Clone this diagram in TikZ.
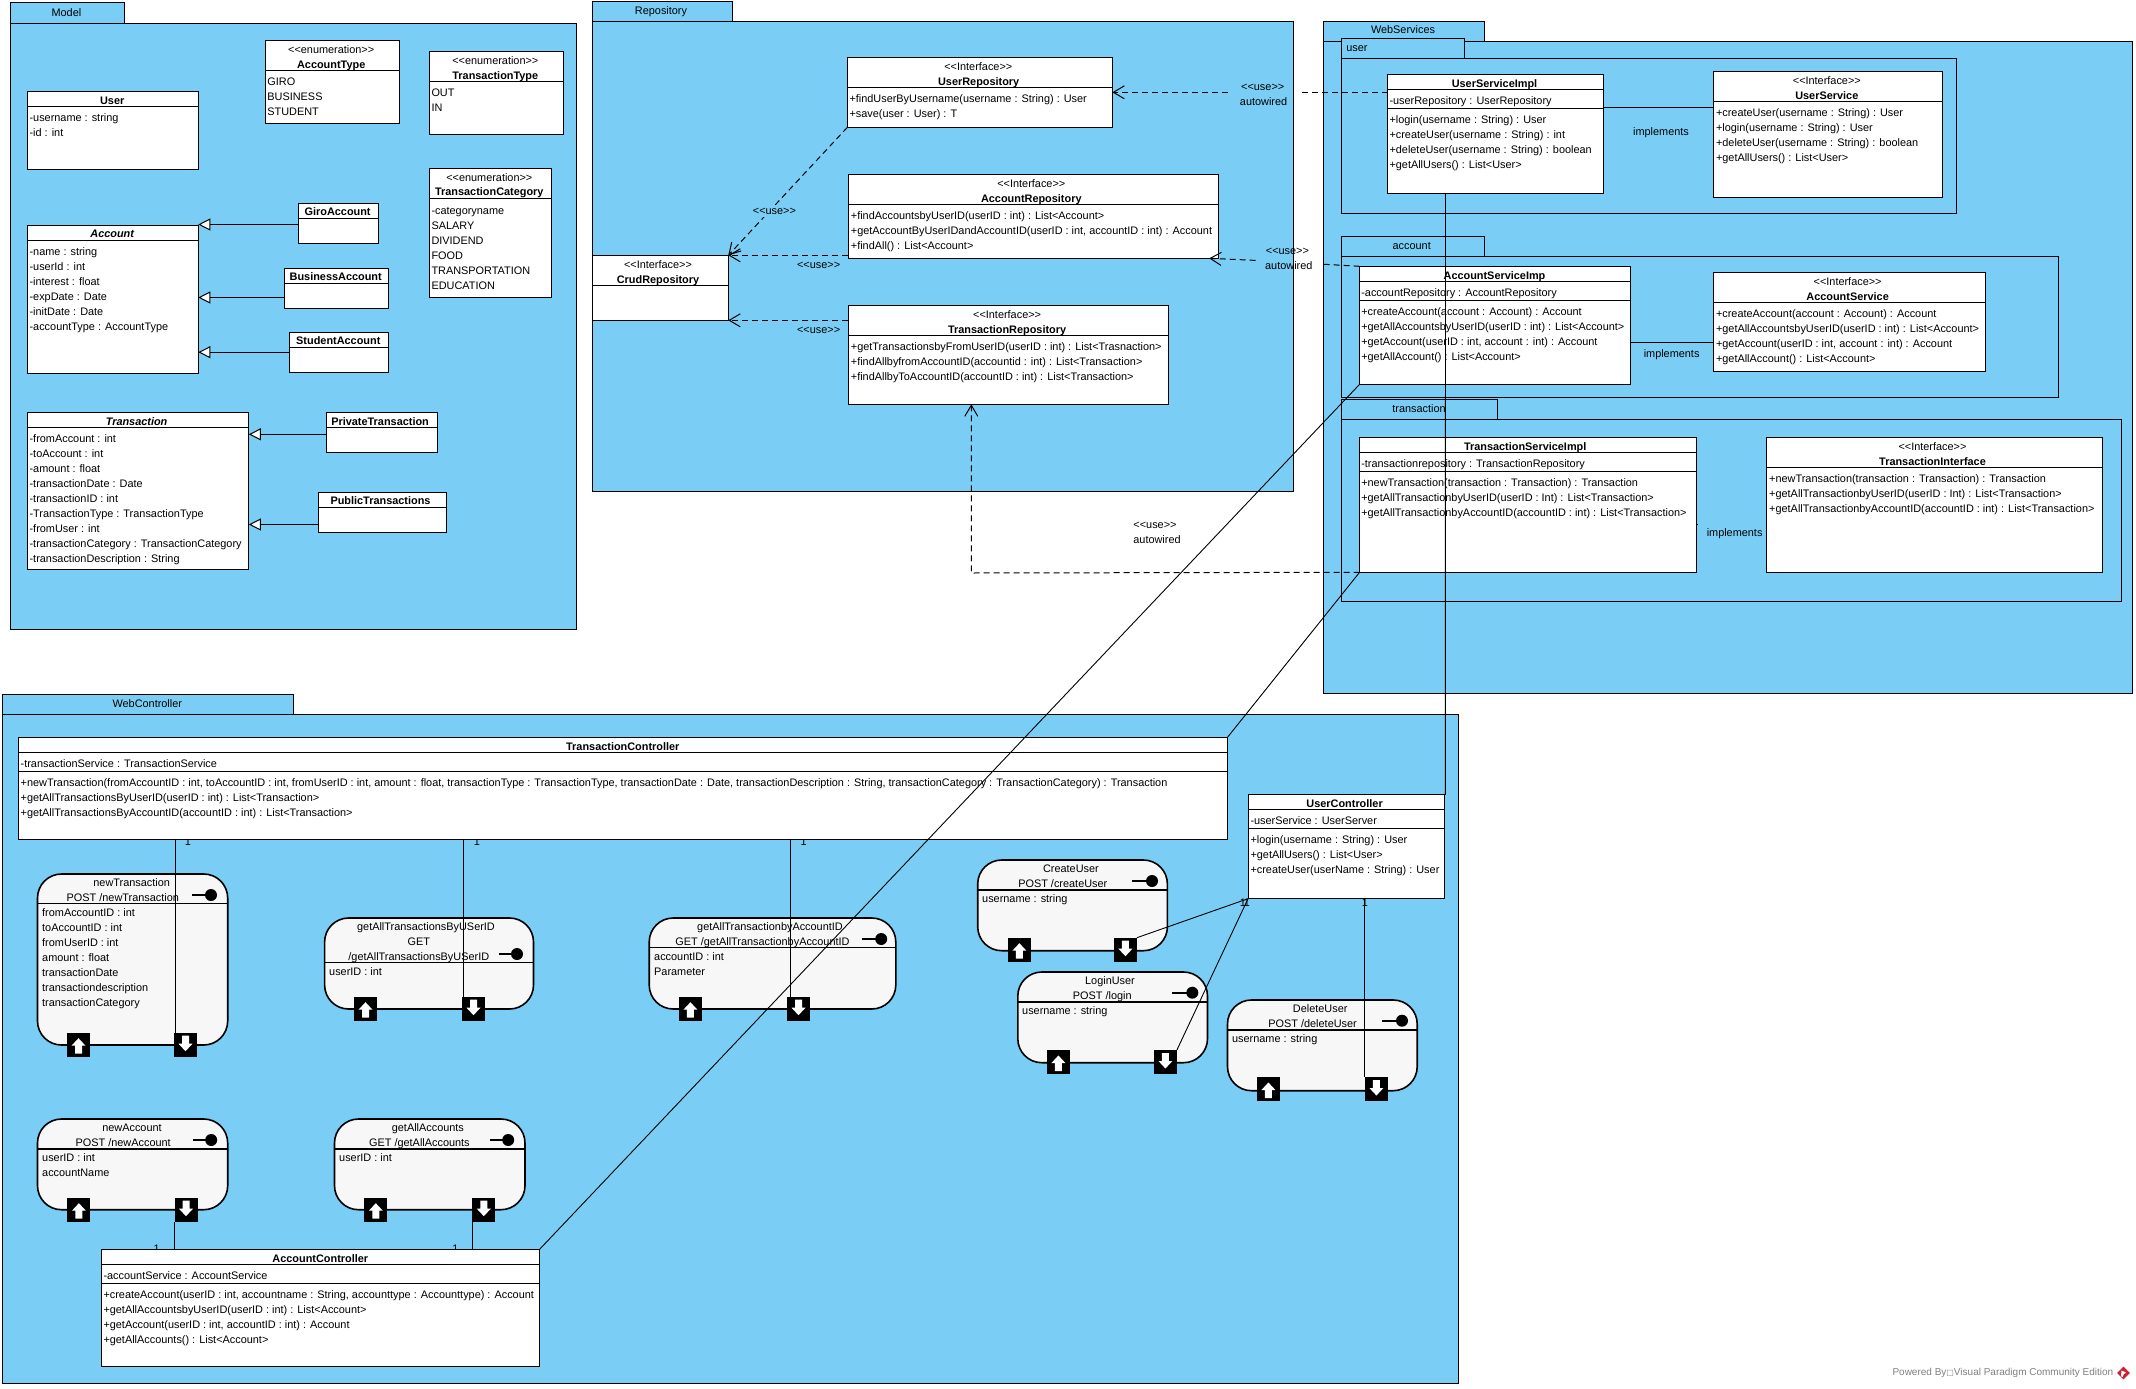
\documentclass[tikz,border=0pt]{standalone}
\usepackage{fontspec}
\setmainfont{Liberation Sans}
\newfontfamily\djvfont{DejaVu Sans}
\usetikzlibrary{arrows.meta,calc}
\definecolor{pkgblue}{RGB}{122,206,245}
\definecolor{stfill}{RGB}{247,247,247}
\definecolor{vpred}{RGB}{208,32,48}
\newcommand{\umlfont}{\fontsize{10.9}{15}\selectfont}
\newcounter{tn}
\tikzset{
  pkgbox/.style={draw=black,fill=pkgblue,line width=1pt,inner sep=0pt,outer sep=0pt,anchor=north west},
  clsbox/.style={draw=black,fill=white,line width=1pt,inner sep=0pt,outer sep=0pt,anchor=north west},
  stbox/.style={draw=black,fill=stfill,line width=1.6pt,inner sep=0pt,outer sep=0pt,anchor=north west,rounded corners=24pt},
  sepline/.style={line width=1pt},
  stsep/.style={line width=1.6pt},
  ctxt/.style={inner sep=0pt,font=\umlfont,text height=7.5pt,text depth=2.5pt,anchor=center,yshift=-1.5pt},
  rowtxt/.style={inner sep=0pt,font=\umlfont,align=left,anchor=north west,yshift=-1.5pt},
  portbox/.style={fill=black,inner sep=0pt,outer sep=0pt,minimum width=23pt,minimum height=24pt,anchor=north},
  lolli/.style={circle,fill=black,inner sep=0pt,outer sep=0pt,minimum size=12pt},
  gen/.style={line width=1pt,-{Triangle[open,fill=white,length=12pt,width=12pt]}},
  dep/.style={line width=1pt,dash pattern=on 6pt off 4pt,-{Straight Barb[length=11pt,width=13pt]}},
  depplain/.style={line width=1pt,dash pattern=on 6pt off 4pt},
  assoc/.style={line width=.9pt},
}
% generic box: style, name, x0,y0,x1,y1
\newcommand{\ubox}[6]{\pgfmathsetlengthmacro\uw{(#5)-(#3)}\pgfmathsetlengthmacro\uh{(#6)-(#4)}%
  \node[#1,minimum width=\uw,minimum height=\uh] (#2) at (#3,#4) {};}
\newcommand{\csep}[2]{\draw[sepline] (#1.west |- 0,#2) -- (#1.east |- 0,#2);}
\newcommand{\ssep}[2]{\draw[stsep] (#1.west |- 0,#2) -- (#1.east |- 0,#2);}
% centered text
\newcommand{\ct}[3]{\stepcounter{tn}\node[ctxt] (t\thetn) at (#1,#2) {#3};}
\newcommand{\sg}[1]{<{}<#1>{}>}
% rows: x, ycentre of first row, content
\newcommand{\rws}[3]{\stepcounter{tn}\node[rowtxt] (t\thetn) at (#1,{#2-7.6}) {\strut #3};}
% ports: name, cx, ytop
\newcommand{\portup}[3]{\node[portbox] (#1) at (#2,#3) {};
  \fill[white] ($(#1.north)+(0,5.5)$) -- ++(7,7.5) -- ++(-3.5,0) -- ++(0,8) -- ++(-7,0) -- ++(0,-8) -- ++(-3.5,0) -- cycle;}
\newcommand{\portdn}[3]{\node[portbox] (#1) at (#2,#3) {};
  \fill[white] ($(#1.south)+(0,-5.5)$) -- ++(7,-7.5) -- ++(-3.5,0) -- ++(0,-8) -- ++(-7,0) -- ++(0,8) -- ++(-3.5,0) -- cycle;}
% lollipop: name, x0, x circle, y
\newcommand{\lol}[4]{\node[lolli] (#1) at (#3,#4) {}; \draw[stsep] (#2,#4) -- (#1.center);}
\begin{document}
\begin{tikzpicture}[x=1pt,y=-1pt]
\fill[white] (0,0) rectangle (2136,1389);
\useasboundingbox (0,0) rectangle (2136,1389);

% ===== Model =====
\ubox{pkgbox}{modeltab}{10.5}{3}{124}{23.3}
\ubox{pkgbox}{model}{10.5}{23.3}{576}{629.4}
\ct{66.4}{12.2}{Model}
\ubox{clsbox}{user}{27.5}{91.4}{198.3}{169.4} \csep{user}{106.5}
\ct{112.2}{100}{\bfseries User}
\rws{29.4}{117}{-username : string\\-id : int}
\ubox{clsbox}{acctype}{265.3}{40.4}{399.3}{123.3} \csep{acctype}{70.2}
\ct{331.2}{49}{\sg{enumeration}} \ct{331.2}{64}{\bfseries AccountType}
\rws{267.2}{81}{GIRO\\BUSINESS\\STUDENT}
\ubox{clsbox}{trtype}{429.4}{51.4}{563.4}{134.3} \csep{trtype}{81.2}
\ct{495.3}{60.4}{\sg{enumeration}} \ct{495.3}{75.1}{\bfseries TransactionType}
\rws{431.3}{92.2}{OUT\\IN}
\ubox{clsbox}{trcat}{429.4}{168.6}{551.4}{297.1} \csep{trcat}{198.8}
\ct{489.3}{177.1}{\sg{enumeration}} \ct{489.3}{191.8}{\bfseries TransactionCategory}
\rws{431.3}{209.4}{-categoryname\\SALARY\\DIVIDEND\\FOOD\\TRANSPORTATION\\EDUCATION}
\ubox{clsbox}{giro}{298.5}{203.3}{378.6}{243.7} \csep{giro}{218.4}
\ct{337.6}{211.8}{\bfseries GiroAccount}
\ubox{clsbox}{business}{284.5}{268.6}{388.4}{308.6} \csep{business}{283.7}
\ct{335.7}{276.7}{\bfseries BusinessAccount}
\ubox{clsbox}{student}{289.4}{332.2}{388.4}{372.2} \csep{student}{347.3}
\ct{338.3}{340.8}{\bfseries StudentAccount}
\ubox{clsbox}{account}{27.5}{225.3}{198.3}{373.5} \csep{account}{240.4}
\ct{112.2}{233.9}{\bfseries\itshape Account}
\rws{29.4}{251}{-name : string\\-userId : int\\-interest : float\\-expDate : Date\\-initDate : Date\\-accountType : AccountType}
\ubox{clsbox}{transaction}{27.5}{412.2}{248.8}{569.4} \csep{transaction}{427.3}
\ct{136.6}{421.2}{\bfseries\itshape Transaction}
\rws{29.4}{438}{-fromAccount : int\\-toAccount : int\\-amount : float\\-transactionDate : Date\\-transactionID : int\\-TransactionType : TransactionType\\-fromUser : int\\-transactionCategory : TransactionCategory\\-transactionDescription : String}
\ubox{clsbox}{privatet}{326.3}{412.2}{437.3}{452.2} \csep{privatet}{427.3}
\ct{380.1}{421.2}{\bfseries PrivateTransaction}
\ubox{clsbox}{publict}{318.4}{492.2}{446.4}{532.2} \csep{publict}{507.3}
\ct{380.5}{500.8}{\bfseries PublicTransactions}
\draw[gen] (giro.west |- 0,224.5) -- (account.east |- 0,224.5);
\draw[gen] (business.west |- 0,297.5) -- (account.east |- 0,297.5);
\draw[gen] (student.west |- 0,352.2) -- (account.east |- 0,352.2);
\draw[gen] (privatet.west |- 0,434.3) -- (transaction.east |- 0,434.3);
\draw[gen] (publict.west |- 0,524.5) -- (transaction.east |- 0,524.5);

% ===== Repository =====
\ubox{pkgbox}{repotab}{592.3}{1.3}{732.5}{21.3}
\ubox{pkgbox}{repo}{592.3}{21.3}{1293.4}{491.3}
\ct{661}{10.3}{Repository}
\ubox{clsbox}{userrepo}{847.4}{57.3}{1112.4}{127.3} \csep{userrepo}{87.3}
\ct{978.3}{66.3}{\sg{Interface}} \ct{978.7}{81.3}{\bfseries UserRepository}
\rws{849.3}{98.3}{+findUserByUsername(username : String) : User\\+save(user : User) : T}
\ubox{clsbox}{accrepo}{848.4}{174.3}{1218.5}{258.3} \csep{accrepo}{204.3}
\ct{1031.3}{183.3}{\sg{Interface}} \ct{1031.3}{198.3}{\bfseries AccountRepository}
\rws{850.7}{215.3}{+findAccountsbyUserID(userID : int) : List<Account>\\+getAccountByUserIDandAccountID(userID : int, accountID : int) : Account\\+findAll() : List<Account>}
\ubox{clsbox}{trrepo}{848.4}{305.3}{1168.7}{404.3} \csep{trrepo}{335.3}
\ct{1007.1}{314.3}{\sg{Interface}} \ct{1007.1}{329.3}{\bfseries TransactionRepository}
\rws{850.7}{346.3}{+getTransactionsbyFromUserID(userID : int) : List<Trasnaction>\\+findAllbyfromAccountID(accountid : int) : List<Transaction>\\+findAllbyToAccountID(accountID : int) : List<Transaction>}
\ubox{clsbox}{crud}{592.3}{255.3}{728.3}{320.3} \csep{crud}{285.3}
\ct{658}{264.3}{\sg{Interface}} \ct{658}{279.3}{\bfseries CrudRepository}

% ===== WebServices =====
\ubox{pkgbox}{wstab}{1323.6}{21.3}{1484.6}{41.3}
\ubox{pkgbox}{ws}{1323.6}{41.3}{2132}{693.3}
\ct{1403}{30}{WebServices}
% user
\ubox{pkgbox}{utab}{1341.4}{38.3}{1464.8}{58.3}
\ubox{pkgbox}{upkg}{1341.4}{58.3}{1956}{213.3}
\ct{1357}{47.3}{user}
\ubox{clsbox}{usimpl}{1387.7}{74.3}{1603.9}{193.3} \csep{usimpl}{89.3} \csep{usimpl}{108.3}
\ct{1494.5}{83.3}{\bfseries UserServiceImpl}
\rws{1389.3}{100.3}{-userRepository : UserRepository}
\rws{1389.3}{119.3}{+login(username : String) : User\\+createUser(username : String) : int\\+deleteUser(username : String) : boolean\\+getAllUsers() : List<User>}
\ubox{clsbox}{uservice}{1713.8}{71.3}{1942.9}{197.3} \csep{uservice}{101.3}
\ct{1826.8}{80.3}{\sg{Interface}} \ct{1826.8}{95.3}{\bfseries UserService}
\rws{1715.8}{112.3}{+createUser(username : String) : User\\+login(username : String) : User\\+deleteUser(username : String) : boolean\\+getAllUsers() : List<User>}
\ct{1661}{131.3}{implements}
% account
\ubox{pkgbox}{atab}{1341.4}{236.3}{1484.6}{256.3}
\ubox{pkgbox}{apkg}{1341.4}{256.3}{2058}{397.3}
\ct{1411.7}{245.3}{account}
\ubox{clsbox}{asimpl}{1359.6}{266.3}{1630.9}{384.3} \csep{asimpl}{281.3} \csep{asimpl}{300.3}
\ct{1494.5}{275.3}{\bfseries AccountServiceImp}
\rws{1361.1}{292.3}{-accountRepository : AccountRepository}
\rws{1361.1}{311.3}{+createAccount(account : Account) : Account\\+getAllAccountsbyUserID(userID : int) : List<Account>\\+getAccount(userID : int, account : int) : Account\\+getAllAccount() : List<Account>}
\ubox{clsbox}{aservice}{1713.8}{272.3}{1985.1}{371.3} \csep{aservice}{302.3}
\ct{1847.6}{281.3}{\sg{Interface}} \ct{1847.6}{296.3}{\bfseries AccountService}
\rws{1715.8}{313.3}{+createAccount(account : Account) : Account\\+getAllAccountsbyUserID(userID : int) : List<Account>\\+getAccount(userID : int, account : int) : Account\\+getAllAccount() : List<Account>}
\ct{1671.6}{353.3}{implements}
% transaction
\ubox{pkgbox}{ttab}{1341.4}{399.3}{1497.6}{419.3}
\ubox{pkgbox}{tpkg}{1341.4}{419.3}{2121}{601.3}
\ct{1419}{408.3}{transaction}
\ubox{clsbox}{tsimpl}{1359.6}{437.3}{1696}{572.3} \csep{tsimpl}{452.3} \csep{tsimpl}{471.3}
\ct{1525.2}{446}{\bfseries TransactionServiceImpl}
\rws{1361.1}{463.3}{-transactionrepository : TransactionRepository}
\rws{1361.1}{482.3}{+newTransaction(transaction : Transaction) : Transaction\\+getAllTransactionbyUserID(userID : Int) : List<Transaction>\\+getAllTransactionbyAccountID(accountID : int) : List<Transaction>}
\ubox{clsbox}{tiface}{1766.9}{437.3}{2102.3}{572.3} \csep{tiface}{467.3}
\ct{1932.5}{446.3}{\sg{Interface}} \ct{1932.5}{461.3}{\bfseries TransactionInterface}
\rws{1769}{478.3}{+newTransaction(transaction : Transaction) : Transaction\\+getAllTransactionbyUserID(userID : Int) : List<Transaction>\\+getAllTransactionbyAccountID(accountID : int) : List<Transaction>}
\ct{1734.6}{532.3}{implements}

% ===== WebController =====
\ubox{pkgbox}{wctab}{2.2}{694.3}{293.8}{714.3}
\ubox{pkgbox}{wc}{2.2}{714.3}{1458.4}{1383.3}
\ct{147.3}{703}{WebController}
% multiplicities (partly hidden by the class boxes)
\ct{188}{841.7}{1} \ct{477}{841.7}{1} \ct{803.7}{841.7}{1}
\ct{156.7}{1248}{1} \ct{455.4}{1248}{1}
\ct{1243}{902}{1} \ct{1247}{902}{1} \ct{1365}{902}{1}
\ubox{clsbox}{tctrl}{18.3}{737.3}{1227.5}{839.3} \csep{tctrl}{752.3} \csep{tctrl}{771.3}
\ct{622.8}{746}{\bfseries TransactionController}
\rws{20.5}{763.3}{-transactionService : TransactionService}
\rws{20.5}{782.3}{+newTransaction(fromAccountID : int, toAccountID : int, fromUserID : int, amount : float, transactionType : TransactionType, transactionDate : Date, transactionDescription : String, transactionCategory : TransactionCategory) : Transaction\\+getAllTransactionsByUserID(userID : int) : List<Transaction>\\+getAllTransactionsByAccountID(accountID : int) : List<Transaction>}
\ubox{clsbox}{uctrl}{1248}{794.3}{1444.3}{898.7} \csep{uctrl}{809.3} \csep{uctrl}{828.3}
\ct{1344.6}{803.3}{\bfseries UserController}
\rws{1250.3}{820.3}{-userService : UserServer}
\rws{1250.3}{839.3}{+login(username : String) : User\\+getAllUsers() : List<User>\\+createUser(userName : String) : User}
\ubox{clsbox}{actrl}{101.4}{1249.3}{539.6}{1366.3} \csep{actrl}{1264.3} \csep{actrl}{1283.3}
\ct{320.3}{1258}{\bfseries AccountController}
\rws{103.3}{1275.3}{-accountService : AccountService}
\rws{103.3}{1294.3}{+createAccount(userID : int, accountname : String, accounttype : Accounttype) : Account\\+getAllAccountsbyUserID(userID : int) : List<Account>\\+getAccount(userID : int, accountID : int) : Account\\+getAllAccounts() : List<Account>}

% state boxes
\ubox{stbox}{snewt}{37.5}{874}{227.7}{1045} \ssep{snewt}{903.3}
\ct{131.7}{882.3}{newTransaction} \ct{122.8}{897.3}{POST /newTransaction}
\lol{lnewt}{192}{211}{895}
\rws{42}{912}{fromAccountID : int\\toAccountID : int\\fromUserID : int\\amount : float\\transactionDate\\transactiondescription\\transactionCategory}
\portup{pnewtu}{78.5}{1032.7} \portdn{pnewtd}{185.5}{1032.7}

\ubox{stbox}{sbyuser}{324.6}{918}{533.5}{1009} \ssep{sbyuser}{962.3}
\ct{426}{926}{getAllTransactionsByUSerID} \ct{418.8}{941}{GET} \ct{418.8}{956}{/getAllTransactionsByUSerID}
\lol{lbyuser}{498.7}{517}{954}
\rws{329}{971.3}{userID : int}
\portup{pbyuseru}{365.5}{996.7} \portdn{pbyuserd}{473.5}{996.7}

\ubox{stbox}{sbyacc}{649.2}{918}{895.8}{1009} \ssep{sbyacc}{947.3}
\ct{770}{926}{getAllTransactionbyAccountID} \ct{762.5}{941}{GET /getAllTransactionbyAccountID}
\lol{lbyacc}{861.7}{881.2}{939}
\rws{654}{956}{accountID : int\\Parameter}
\portup{pbyaccu}{690.4}{996.7} \portdn{pbyaccd}{798.5}{996.7}

\ubox{stbox}{screate}{977.7}{860}{1167.4}{950.7} \ssep{screate}{889.7}
\ct{1070.9}{868.3}{CreateUser} \ct{1062.8}{883.3}{POST /createUser}
\lol{lcreate}{1132}{1152}{881}
\rws{982}{898.3}{username : string}
\portup{pcreateu}{1019.4}{937.7} \portdn{pcreated}{1125.4}{937.7}

\ubox{stbox}{slogin}{1017.8}{972}{1207.5}{1062.7} \ssep{slogin}{1001.7}
\ct{1110}{980.3}{LoginUser} \ct{1102.3}{995.3}{POST /login}
\lol{llogin}{1172.2}{1192.3}{992.7}
\rws{1022}{1010.3}{username : string}
\portup{ploginu}{1058.4}{1050} \portdn{plogind}{1165.4}{1050}

\ubox{stbox}{sdelete}{1227.5}{1000}{1417.2}{1090.7} \ssep{sdelete}{1029.7}
\ct{1320.2}{1008.3}{DeleteUser} \ct{1312.6}{1023.3}{POST /deleteUser}
\lol{ldelete}{1382}{1402}{1020.7}
\rws{1231.9}{1038.3}{username : string}
\portup{pdeleteu}{1268.4}{1077} \portdn{pdeleted}{1376.4}{1077}

\ubox{stbox}{snewa}{37.5}{1119}{227.7}{1209.7} \ssep{snewa}{1148.7}
\ct{132}{1127.3}{newAccount} \ct{123.2}{1142.3}{POST /newAccount}
\lol{lnewa}{192.5}{211.2}{1140}
\rws{42}{1157.3}{userID : int\\accountName}
\portup{pnewau}{78.9}{1197.7} \portdn{pnewad}{186}{1197.7}

\ubox{stbox}{sgeta}{334.5}{1119}{525}{1209.7} \ssep{sgeta}{1148.7}
\ct{427.9}{1127.3}{getAllAccounts} \ct{419.4}{1142.3}{GET /getAllAccounts}
\lol{lgeta}{489.5}{508.2}{1140}
\rws{339}{1157.3}{userID : int}
\portup{pgetau}{375.8}{1197.7} \portdn{pgetad}{483.8}{1197.7}

% implementation lines
\draw[assoc] (usimpl.east |- 0,107.3) -- (uservice.west |- 0,107.3);
\draw[assoc] (asimpl.east |- 0,342.3) -- (aservice.west |- 0,342.3);
\coordinate (tsimplmid) at (tsimpl.east |- 0,524.3);
\draw[assoc] (tsimplmid) -- ++(1.5,0);

% repository dependencies
\draw[dep] (userrepo.south west) -- (crud.north east);
\node[ctxt,fill=pkgblue,inner xsep=3pt] (uselbl) at (774.4,210.3) {\sg{use}};
\draw[dep] (accrepo.west |- crud.north east) -- (crud.north east);
\draw[dep] (trrepo.west |- crud.south east) -- (crud.south east);
\ct{818.6}{264.3}{\sg{use}} \ct{818.6}{329.3}{\sg{use}}

% autowired dependencies
\coordinate (ugapa) at (1302,92.3);
\coordinate (ugapb) at (1228,92.3);
\draw[depplain] (usimpl.west |- ugapa) -- (ugapa);
\draw[dep] (ugapb) -- (userrepo.east |- ugapb);
\ct{1262.7}{86.3}{\sg{use}} \ct{1263.6}{101.3}{autowired}
\coordinate (agapa) at (1322.6,264.2);
\coordinate (agapb) at (1255.7,260.4);
\coordinate (atip) at ($(accrepo.south east)+(-9.3,0)$);
\draw[depplain] (asimpl.north west) -- (agapa);
\draw[dep] (agapb) -- (atip);
\ct{1287.4}{250.3}{\sg{use}} \ct{1288.8}{265.3}{autowired}
\coordinate (tdepbend) at (971.3,573);
\draw[dep] (tsimpl.south west) -- (tdepbend) -- (tdepbend |- trrepo.south);
\ct{1155}{524}{\sg{use}} \ct{1157}{539}{autowired}

% associations drawn on top
\coordinate (anewt) at ($(pnewtd.north west)+(1.4,0)$);
\coordinate (abyuser) at ($(pbyuserd.north west)+(1.4,0)$);
\coordinate (abyacc) at ($(pbyaccd.north west)+(3.7,0)$);
\draw[assoc] (tctrl.south -| anewt) -- (anewt);
\draw[assoc] (tctrl.south -| abyuser) -- (abyuser);
\draw[assoc] (tctrl.south -| abyacc) -- (abyacc);
\draw[assoc] (pnewad.south west) -- (pnewad.south west |- actrl.north);
\draw[assoc] (pgetad.south west) -- (pgetad.south west |- actrl.north);
\draw[assoc] (pcreated.north east) -- (uctrl.south west);
\draw[assoc] (plogind.north east) -- (uctrl.south west);
\draw[assoc] (pdeleted.north west) -- (pdeleted.north west |- uctrl.south);
\draw[assoc] (tctrl.north east) -- (tsimpl.south west);
\draw[assoc] (actrl.north east) -- (asimpl.south west);
\draw[assoc] (uctrl.north east) -- ++(1,0) -- (usimpl.south -| 1445.5,0);

% footer
\node[inner sep=0pt,font=\fontsize{10}{12}\selectfont,text=black!50,anchor=west] (footer) at (1892.3,1372.7) {Powered By{\djvfont\fontsize{8}{12}\selectfont □}Visual Paradigm Community Edition};
\node[fill=vpred,rotate=45,minimum size=9pt,inner sep=0pt] (logo) at (2123.5,1373) {};
\fill[white] (logo.center) ++(-2,-2.5) -- ++(4.5,2) -- ++(-2.5,2) -- ++(-.8,2.5) -- ++(-1.7,-.8) -- cycle;
\end{tikzpicture}
\end{document}
